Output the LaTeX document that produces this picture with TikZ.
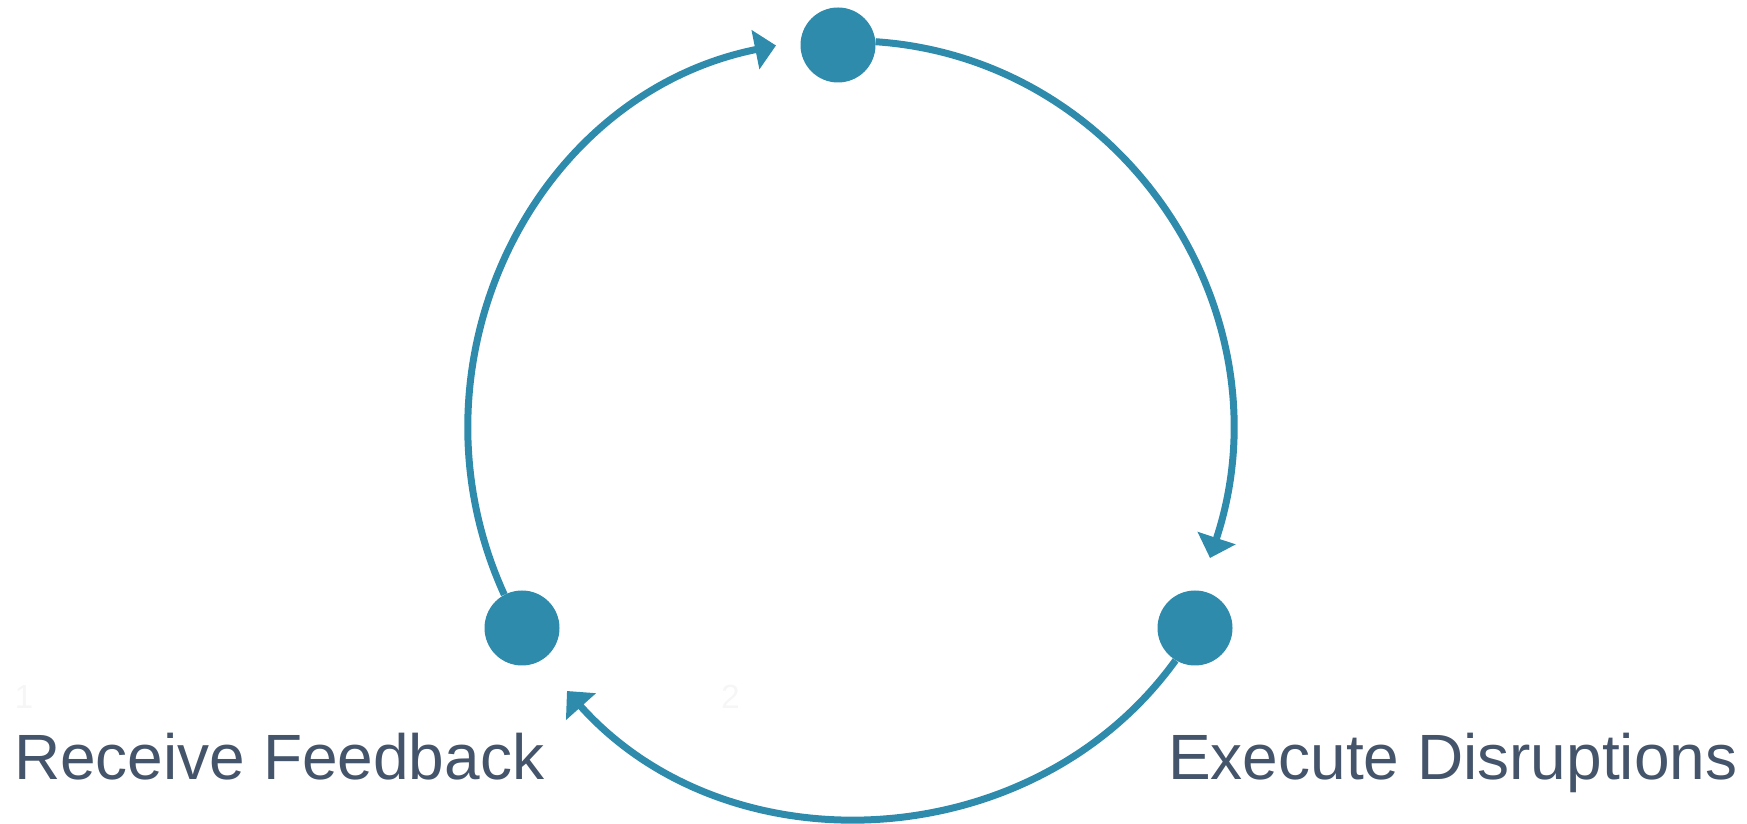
\documentclass[tikz,border=0pt]{standalone}
\usepackage{fontspec}
\setmainfont{Liberation Sans}
\usetikzlibrary{arrows.meta}
\definecolor{cyc}{RGB}{46,139,172}
\definecolor{lbl}{RGB}{68,84,106}
\definecolor{faint}{RGB}{246,246,246}
\begin{document}
\begin{tikzpicture}[x=1pt,y=1pt,
  dot/.style={circle,fill=cyc,minimum size=75pt,inner sep=0pt},
  flow/.style={draw=cyc,line width=7pt,-{Triangle[length=21pt,width=39pt]}},
  lab/.style={font=\fontsize{64}{70}\selectfont,text=lbl,inner sep=0pt,anchor=base west},
  num/.style={font=\fontsize{33.5}{38}\selectfont,text=faint,inner sep=0pt,anchor=base west}]
\useasboundingbox (0,0) rectangle (1747,824);
\node[dot] (top) at (838,779) {};
\node[dot] (br) at (1195,196) {};
\node[dot] (bl) at (522,196) {};
\coordinate (tip1) at (1210,266);
\coordinate (tip2) at (567,133);
\coordinate (tip3) at (776,778.5);
\draw[flow] (top.5) .. controls (1125.5,765.3) and (1290.7,510.2) .. (tip1);
\draw[flow] (br.239.5) .. controls (1033.5,-33.3) and (728.9,-48) .. (tip2);
\draw[flow] (bl.118.5) .. controls (399,459.9) and (533.1,729.6) .. (tip3);
\node[lab] (rf) at (14,44) {Receive Feedback};
\node[lab] (ed) at (1168,44) {Execute Disruptions};
\node[num] (n1) at (14.5,115) {1};
\node[num] (n2) at (721,115) {2};
\end{tikzpicture}
\end{document}
